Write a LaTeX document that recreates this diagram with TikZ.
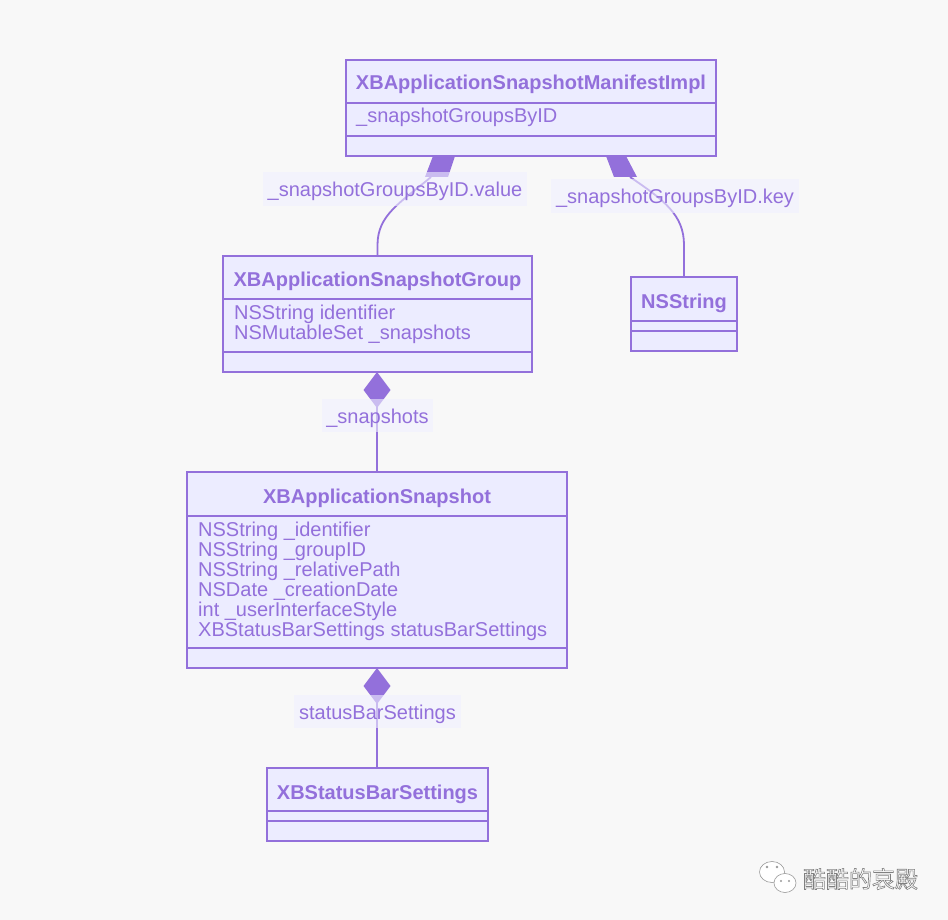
\documentclass[tikz,border=0pt]{standalone}
\usepackage{fontspec}
\setmainfont{Liberation Sans}
\newfontfamily\cjk{Noto Sans CJK SC}
\definecolor{bgc}{HTML}{F8F8F8}
\definecolor{boxfill}{HTML}{ECECFF}
\definecolor{purp}{HTML}{9370DB}
\definecolor{lblfill}{HTML}{F0F0FF}
\definecolor{wmgray}{HTML}{9A9A9A}
\begin{document}
\begin{tikzpicture}[x=1pt,y=-1pt,
  classbox/.style={draw=purp, fill=boxfill, line width=1.8pt, inner sep=0pt, outer sep=0pt, anchor=north west},
  sepline/.style={draw=purp, line width=1.8pt},
  ctitle/.style={font=\bfseries\fontsize{20}{20}\selectfont, text=purp, inner sep=0pt, anchor=base},
  cattr/.style={font=\fontsize{20}{20}\selectfont, text=purp, inner sep=0pt, anchor=base west},
  elabel/.style={fill=lblfill, fill opacity=0.6, text opacity=1, text=purp, font=\fontsize{20}{20}\selectfont, inner sep=0pt, text height=17pt, text depth=2pt},
  link/.style={draw=purp, line width=1.8pt},
  dia/.style={fill=purp},
  bubble/.style={fill=white, draw=wmgray, line width=0.6pt}
]
\fill[bgc] (0,0) rectangle (948,920);
\useasboundingbox (0,0) rectangle (948,920);

% ---- connectors (drawn first, boxes cover them) ----
\coordinate (dA) at (431,177);
\coordinate (dB) at (630,177);
\coordinate (grpTop) at (377.5,256);
\coordinate (nsTop) at (684,277);

\draw[link] (dA) .. controls (400,203) and (377.5,215) .. (377.5,245) -- (grpTop);
\draw[link] (dB) .. controls (664,200) and (684,215) .. (684,245) -- (nsTop);
\fill[dia] (433,156) -- (455,156) -- (448,177) -- (425,177) -- cycle;
\fill[dia] (606,156) -- (626,156) -- (637,177) -- (614,177) -- cycle;

% ---- boxes ----
\node[classbox, minimum width=370pt, minimum height=96pt] (mani) at (346,60) {};
\node[classbox, minimum width=309pt, minimum height=116pt] (group) at (223,256) {};
\node[classbox, minimum width=106pt, minimum height=74pt] (nsstr) at (631,277) {};
\node[classbox, minimum width=380pt, minimum height=196pt] (snap) at (187,472) {};
\node[classbox, minimum width=221pt, minimum height=73pt] (sbs) at (267,768) {};

\draw[sepline] ([yshift=-43pt]mani.north west) -- ([yshift=-43pt]mani.north east);
\draw[sepline] ([yshift=-76pt]mani.north west) -- ([yshift=-76pt]mani.north east);
\draw[sepline] ([yshift=-43pt]group.north west) -- ([yshift=-43pt]group.north east);
\draw[sepline] ([yshift=-96pt]group.north west) -- ([yshift=-96pt]group.north east);
\draw[sepline] ([yshift=-44pt]nsstr.north west) -- ([yshift=-44pt]nsstr.north east);
\draw[sepline] ([yshift=-54pt]nsstr.north west) -- ([yshift=-54pt]nsstr.north east);
\draw[sepline] ([yshift=-44pt]snap.north west) -- ([yshift=-44pt]snap.north east);
\draw[sepline] ([yshift=-176pt]snap.north west) -- ([yshift=-176pt]snap.north east);
\draw[sepline] ([yshift=-43pt]sbs.north west) -- ([yshift=-43pt]sbs.north east);
\draw[sepline] ([yshift=-53pt]sbs.north west) -- ([yshift=-53pt]sbs.north east);

% ---- composition links below boxes ----
\coordinate (cTop) at (group.south -| snap.north);
\draw[link] (cTop) -- (snap.north);
\fill[dia] (cTop) -- ++(13.5,18) -- ++(-13.5,18) -- ++(-13.5,-18) -- cycle;
\draw[link] (snap.south) -- (snap.south |- sbs.north);
\fill[dia] (snap.south) -- ++(13.5,18) -- ++(-13.5,18) -- ++(-13.5,-18) -- cycle;

% ---- edge labels ----
\node[elabel, minimum width=264pt, minimum height=34pt] (lA) at (395,189.5) {\_snapshotGroupsByID.value};
\node[elabel, minimum width=248pt, minimum height=34pt] (lB) at (675,196) {\_snapshotGroupsByID.key};
\node[elabel, minimum width=111pt, minimum height=33pt] (lC) at (377.5,415.5) {\_snapshots};
\node[elabel, minimum width=167pt, minimum height=33pt] (lD) at (377.5,711.5) {statusBarSettings};

% ---- texts ----
\node[ctitle] (maniT) at (531,90) {XBApplicationSnapshotManifestImpl};
\node[cattr] (maniA) at (356,123) {\_snapshotGroupsByID};

\node[ctitle] (groupT) at (377.5,287) {XBApplicationSnapshotGroup};
\node[cattr] (groupA1) at (234,319) {NSString identifier};
\node[cattr] (groupA2) at (234,339) {NSMutableSet \_snapshots};

\node[ctitle] (nsT) at (684,308) {NSString};

\node[ctitle] (snapT) at (377,503) {XBApplicationSnapshot};
\node[cattr] (snapA1) at (198,536) {NSString \_identifier};
\node[cattr] (snapA2) at (198,556) {NSString \_groupID};
\node[cattr] (snapA3) at (198,576) {NSString \_relativePath};
\node[cattr] (snapA4) at (198,596) {NSDate \_creationDate};
\node[cattr] (snapA5) at (198,616) {int \_userInterfaceStyle};
\node[cattr] (snapA6) at (198,636) {XBStatusBarSettings statusBarSettings};

\node[ctitle] (sbsT) at (377.5,799) {XBStatusBarSettings};

% ---- watermark ----
\draw[bubble] (772,872) ellipse (12.5 and 10.5);
\draw[bubble] (785,883) ellipse (11 and 9.5);
\fill[wmgray] (767,867) circle (1.3) (777,867) circle (1.3) (781,881) circle (1.2) (789,881) circle (1.2);
\node[inner sep=0pt, text=white, font=\cjk\fontsize{23}{24}\selectfont] (wm) at (860.5,879) {\special{pdf:code 2 Tr 0.6 w 0.5 G}酷酷的哀殿\special{pdf:code 0 Tr}};
\end{tikzpicture}
\end{document}
